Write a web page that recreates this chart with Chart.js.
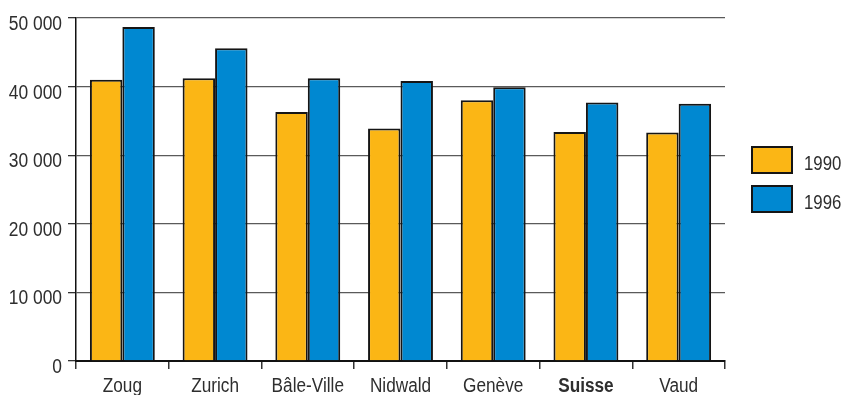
<!DOCTYPE html>
<html>
<head>
<meta charset="utf-8">
<script src="https://cdn.jsdelivr.net/npm/chart.js@4.4.1/dist/chart.umd.min.js"></script>
<style>
  html, body { margin: 0; padding: 0; background: #fff; }
  #wrap { width: 845px; height: 395px; }
</style>
</head>
<body>
<div id="wrap"><canvas id="c" width="845" height="395"></canvas></div>
<script>
// Revenu cantonal par habitant, en francs
const categories = ['Zoug', 'Zurich', 'Bâle-Ville', 'Nidwald', 'Genève', 'Suisse', 'Vaud'];
const values1990 = [41000, 41200, 36300, 33900, 38000, 33400, 33300];
const values1996 = [48700, 45600, 41200, 40800, 39900, 37700, 37500];
const seriesNames = ['1990', '1996'];
const yTicks = [0, 10000, 20000, 30000, 40000, 50000];

const FONT = "'Liberation Sans', Arial, sans-serif";
const TEXT = '#2e2e2e';
const ORANGE = '#FBB615';
const BLUE = '#0088D1';

function fmt(v) {
  return String(v).replace(/\B(?=(\d{3})+(?!\d))/g, ' ');
}

// Narrow lettering: regular sans squeezed horizontally
function drawNarrow(ctx, text, x, y, align, size, weight, sx) {
  ctx.save();
  ctx.translate(x, y);
  ctx.scale(sx, 1);
  ctx.font = (weight || 'normal') + ' ' + size + 'px ' + FONT;
  ctx.fillStyle = TEXT;
  ctx.textAlign = align;
  ctx.textBaseline = 'alphabetic';
  ctx.fillText(text, 0, 0);
  ctx.restore();
}

// Axis labels placed from the chart's own scales
const narrowLabels = {
  id: 'narrowLabels',
  afterDraw(chart) {
    const ctx = chart.ctx;
    const xs = chart.scales.x;
    const ys = chart.scales.y;
    xs.ticks.forEach((t, i) => {
      const label = chart.data.labels[i];
      const bold = label === 'Suisse';
      drawNarrow(ctx, label, xs.getPixelForTick(i), xs.top + 31, 'center', 20, bold ? 'bold' : 'normal', 0.86);
    });
    ys.ticks.forEach((t) => {
      drawNarrow(ctx, fmt(t.value), ys.right - 14, ys.getPixelForValue(t.value) + 12, 'right', 20, 'normal', 0.87);
    });
  }
};

// Legend to the right of the plot, built from the datasets
const sideLegend = {
  id: 'sideLegend',
  afterDraw(chart) {
    const ctx = chart.ctx;
    const x0 = chart.chartArea.right + 27;
    const y0 = 147;
    ctx.save();
    chart.data.datasets.forEach((ds, i) => {
      const y = y0 + i * 39;
      ctx.fillStyle = ds.backgroundColor;
      ctx.fillRect(x0, y, 40, 26);
      ctx.lineWidth = 2;
      ctx.strokeStyle = '#151515';
      ctx.strokeRect(x0, y, 40, 26);
      drawNarrow(ctx, ds.label, x0 + 52, y + 23, 'left', 21, 'normal', 0.8);
    });
    ctx.restore();
  }
};

new Chart(document.getElementById('c'), {
  type: 'bar',
  data: {
    labels: categories,
    datasets: [
      { label: seriesNames[0], data: values1990, backgroundColor: ORANGE, borderColor: '#151515', borderWidth: 2 },
      { label: seriesNames[1], data: values1996, backgroundColor: BLUE, borderColor: '#151515', borderWidth: 2 }
    ]
  },
  options: {
    responsive: false,
    animation: false,
    devicePixelRatio: 1,
    layout: { padding: { top: 18, right: 120, bottom: 0, left: 0 } },
    datasets: { bar: { categoryPercentage: 0.7, barPercentage: 1.0 } },
    plugins: {
      legend: { display: false },
      tooltip: { enabled: false }
    },
    scales: {
      x: {
        offset: true,
        grid: {
          offset: true,
          drawOnChartArea: true,
          color: (c) => (c.index === categories.length ? '#777' : 'rgba(0,0,0,0)'),
          tickColor: '#333',
          tickLength: 8,
          lineWidth: 1.5
        },
        border: { color: '#111', width: 2 },
        ticks: { display: false },
        afterFit: (s) => { s.height = 34; }
      },
      y: {
        min: 0,
        max: 50000,
        afterBuildTicks: (s) => { s.ticks = yTicks.map(v => ({ value: v })); },
        grid: {
          color: '#5a5a5a',
          lineWidth: 1.3,
          tickColor: '#333',
          tickLength: 8
        },
        border: { color: '#111', width: 1.5 },
        ticks: { display: false },
        afterFit: (s) => { s.width = 76; }
      }
    }
  },
  plugins: [narrowLabels, sideLegend]
});
</script>
</body>
</html>
